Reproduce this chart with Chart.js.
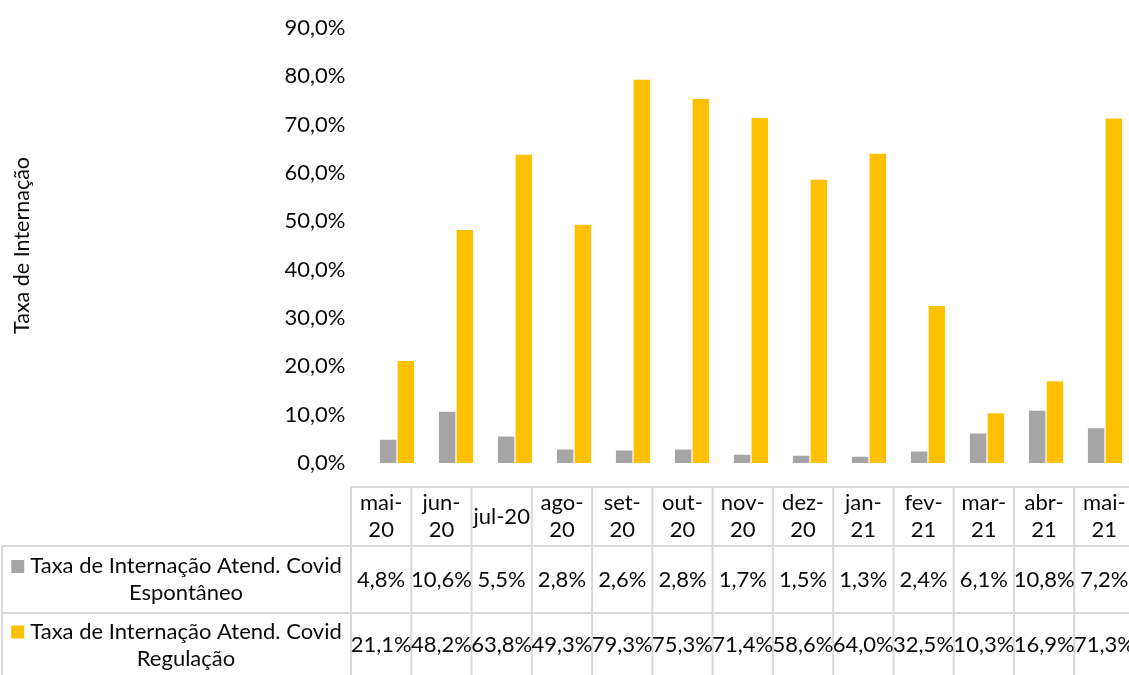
<!DOCTYPE html>
<html>
<head>
<meta charset="utf-8">
<script src="https://cdn.jsdelivr.net/npm/chart.js@4/dist/chart.umd.min.js"></script>
<style>
  html, body { margin: 0; padding: 0; background: #fff; overflow: hidden; }
  #wrap { width: 1129px; height: 675px; overflow: hidden; }
  canvas { display: block; }
</style>
</head>
<body>
<div id="wrap"><canvas id="c" width="1140" height="675"></canvas></div>
<script>
const categories = ['mai-20','jun-20','jul-20','ago-20','set-20','out-20','nov-20','dez-20','jan-21','fev-21','mar-21','abr-21','mai-21'];
const tickLabelLines = [['mai-','20'],['jun-','20'],['jul-20'],['ago-','20'],['set-','20'],['out-','20'],['nov-','20'],['dez-','20'],['jan-','21'],['fev-','21'],['mar-','21'],['abr-','21'],['mai-','21']];
const seriesNames = ['Taxa de Internação Atend. Covid Espontâneo', 'Taxa de Internação Atend. Covid Regulação'];
const seriesLabelLines = [['Taxa de Internação Atend. Covid','Espontâneo'], ['Taxa de Internação Atend. Covid','Regulação']];
const espontaneo = [4.8, 10.6, 5.5, 2.8, 2.6, 2.8, 1.7, 1.5, 1.3, 2.4, 6.1, 10.8, 7.2];
const regulacao = [21.1, 48.2, 63.8, 49.3, 79.3, 75.3, 71.4, 58.6, 64.0, 32.5, 10.3, 16.9, 71.3];
const yTicks = [0, 10, 20, 30, 40, 50, 60, 70, 80, 90];
const colors = ['#A5A5A5', '#FFC000'];
const axisTitle = 'Taxa de Internação';

const FONT = 'Lato, "Open Sans", sans-serif';
const TEXT = '#0a0a0a';
const fmt = v => v.toFixed(1).replace('.', ',') + '%';

const tablePlugin = {
  id: 'dataTable',
  afterDraw(chart) {
    const ctx = chart.ctx;
    const area = chart.chartArea;
    const tableLeft = 351;
    const tableRight = area.right;
    const n = categories.length;
    const colW = (tableRight - tableLeft) / n;
    const yTop = 487, yRow1 = 546, yRow2 = 613, yBottom = 680;
    const legendLeft = 2;
    const series = [espontaneo, regulacao];
    ctx.save();
    ctx.strokeStyle = '#d9d9d9';
    ctx.lineWidth = 2;
    ctx.beginPath();
    ctx.moveTo(tableLeft, yTop); ctx.lineTo(tableRight, yTop);
    ctx.moveTo(legendLeft, yRow1); ctx.lineTo(tableRight, yRow1);
    ctx.moveTo(legendLeft, yRow2); ctx.lineTo(tableRight, yRow2);
    ctx.moveTo(legendLeft, yRow1); ctx.lineTo(legendLeft, yBottom);
    for (let k = 0; k <= n; k++) {
      const x = tableLeft + k * colW;
      ctx.moveTo(x, yTop); ctx.lineTo(x, yBottom);
    }
    ctx.stroke();

    ctx.fillStyle = TEXT;
    ctx.font = '22px ' + FONT;
    ctx.textAlign = 'center';
    ctx.textBaseline = 'middle';
    const lh = 27;
    for (let i = 0; i < n; i++) {
      const cx = tableLeft + (i + 0.5) * colW;
      const lines = tickLabelLines[i];
      const cy = (yTop + yRow1) / 2;
      lines.forEach((t, j) => {
        ctx.fillText(t, cx, cy + (j - (lines.length - 1) / 2) * lh);
      });
    }
    const rows = [[yRow1, yRow2], [yRow2, yRow2 + 64]];
    rows.forEach(([a, b], r) => {
      const cy = (a + b) / 2;
      for (let i = 0; i < n; i++) {
        const cx = tableLeft + (i + 0.5) * colW;
        ctx.fillText(fmt(series[r][i]), cx, cy);
      }
      const lines = seriesLabelLines[r];
      const tx = 186;
      lines.forEach((t, j) => {
        ctx.fillText(t, tx, cy + (j - (lines.length - 1) / 2) * lh);
      });
      const w0 = ctx.measureText(lines[0]).width;
      const y0 = cy - (lines.length - 1) / 2 * lh;
      ctx.fillStyle = colors[r];
      ctx.fillRect(tx - w0 / 2 - 19, y0 - 6, 13, 13);
      ctx.fillStyle = TEXT;
    });
    ctx.restore();
  }
};

new Chart(document.getElementById('c'), {
  type: 'bar',
  data: {
    labels: categories,
    datasets: [
      { label: seriesNames[0], data: espontaneo, backgroundColor: colors[0], categoryPercentage: 0.6, barPercentage: 0.93 },
      { label: seriesNames[1], data: regulacao, backgroundColor: colors[1], categoryPercentage: 0.6, barPercentage: 0.93 }
    ]
  },
  options: {
    responsive: false,
    animation: false,
    devicePixelRatio: 1,
    layout: { padding: { top: 28, bottom: 212, left: 0, right: 5.5 } },
    plugins: { legend: { display: false }, tooltip: { enabled: false } },
    scales: {
      x: { display: false },
      y: {
        min: 0, max: 90,
        afterFit(scale) { scale.width = 367.5; },
        afterBuildTicks(scale) { scale.ticks = yTicks.map(v => ({ value: v })); },
        grid: { display: false },
        border: { display: false },
        ticks: { padding: 14, color: TEXT, font: { family: FONT, size: 22 }, callback: v => fmt(v) },
        title: { display: true, text: axisTitle, color: TEXT, font: { family: FONT, size: 21.5 }, padding: { top: 9, bottom: 0 } }
      }
    }
  },
  plugins: [tablePlugin]
});
</script>
</body>
</html>
